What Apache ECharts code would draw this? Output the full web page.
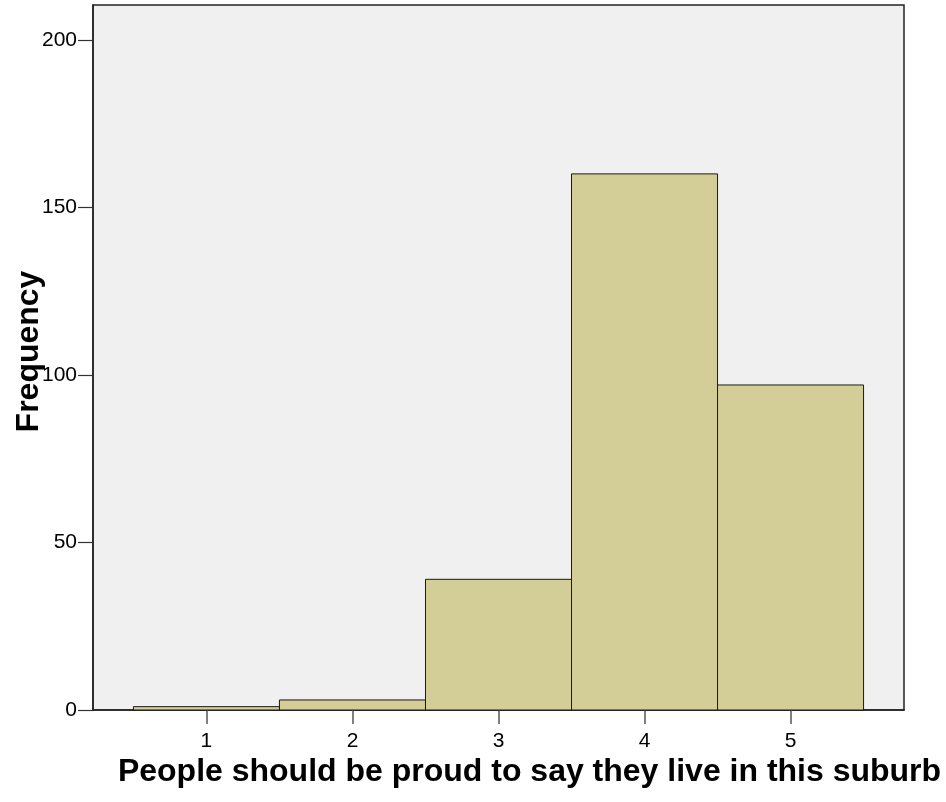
<!DOCTYPE html>
<html>
<head>
<meta charset="utf-8">
<script src="https://cdn.jsdelivr.net/npm/echarts@6/dist/echarts.min.js"></script>
<style>html,body{margin:0;padding:0;background:#fff}#c{width:946px;height:802px}</style>
</head>
<body>
<div id="c"></div>
<script>
const categories = [1, 2, 3, 4, 5];
const frequencies = [1, 3, 39, 160, 97];
const yTicks = [0, 50, 100, 150, 200];
const xTitle = 'People should be proud to say they live in this suburb';
const yTitle = 'Frequency';

const FONT = '"Liberation Sans", Arial, sans-serif';
const chart = echarts.init(document.getElementById('c'), null, {renderer: 'canvas'});
chart.setOption({
  animation: false,
  backgroundColor: '#ffffff',
  grid: {
    left: 93, right: 42, top: 5, bottom: 92,
    outerBoundsMode: 'none', containLabel: false,
    show: true, backgroundColor: '#f0f0f0', borderColor: '#222', borderWidth: 1.5
  },
  xAxis: {
    type: 'value', min: 0.223, max: 5.777,
    splitLine: {show: false},
    axisLine: {show: true, onZero: false, lineStyle: {color: '#222', width: 1.5}},
    axisTick: {show: true, length: 14, customValues: categories, lineStyle: {color: '#555', width: 1.5}},
    axisLabel: {customValues: categories, margin: 21, fontSize: 21, color: '#000', fontFamily: FONT},
    name: xTitle, nameLocation: 'middle', nameGap: 46, nameMoveOverlap: false,
    nameTextStyle: {fontSize: 32, fontWeight: 'bold', color: '#000', fontFamily: FONT, padding: [0, 0, 0, 62]}
  },
  yAxis: {
    type: 'value', min: 0, max: 210.4,
    splitLine: {show: false},
    axisLine: {show: true, lineStyle: {color: '#222', width: 1.5}},
    axisTick: {show: true, length: 15, customValues: yTicks, lineStyle: {color: '#333', width: 1.2}},
    axisLabel: {customValues: yTicks, margin: 16, fontSize: 21, color: '#000', fontFamily: FONT},
    name: yTitle, nameLocation: 'middle', nameGap: 48, nameMoveOverlap: false,
    nameTextStyle: {fontSize: 32, fontWeight: 'bold', color: '#000', fontFamily: FONT, padding: [0, 0, 0, 12]}
  },
  series: [{
    type: 'custom',
    data: categories.map((c, i) => [c, frequencies[i]]),
    encode: {x: 0, y: 1},
    renderItem: function (params, api) {
      const x = api.value(0), y = api.value(1);
      const p1 = api.coord([x - 0.5, y]);
      const p2 = api.coord([x + 0.5, 0]);
      return {
        type: 'rect',
        shape: {x: p1[0], y: p1[1], width: p2[0] - p1[0], height: p2[1] - p1[1]},
        style: {fill: '#d3ce97', stroke: '#1a1a1a', lineWidth: 1}
      };
    }
  }]
});
</script>
</body>
</html>
